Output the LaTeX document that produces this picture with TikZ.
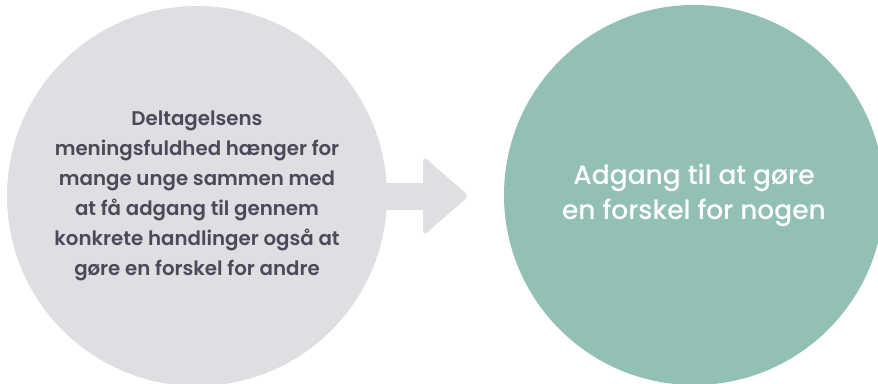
\documentclass[tikz,border=0pt]{standalone}
\usepackage{fontspec}
\setmainfont{Poppins}
\newfontfamily\psemi{Poppins SemiBold}
\newfontfamily\pmed{Poppins Medium}
\definecolor{cgray}{HTML}{DFDFE3}
\definecolor{cteal}{HTML}{92C0B5}
\definecolor{ctext}{HTML}{4B4A5A}
\begin{document}
\begin{tikzpicture}[x=1pt,y=1pt,
  bubble/.style={circle,inner sep=0pt,minimum size=380pt},
  lefttext/.style={text=ctext,font=\psemi\fontsize{19.8}{30}\selectfont,align=center},
  righttext/.style={text=white,font=\pmed\fontsize{26.5}{35}\selectfont,align=center}]
\useasboundingbox (0,0) rectangle (878,383);
\clip (0,0) rectangle (878,383);
\node[bubble,fill=cgray] (L) at (197,187) {};
\node[bubble,fill=cteal] (R) at (694,188) {};
\coordinate (shaftstart) at (370,186.5);
\fill[cgray] (shaftstart) ++(0,-13.5) rectangle (426,200);
\fill[cgray,rounded corners=5pt] (423,227) -- (469,187) -- (423,147) -- cycle;
\node[lefttext] (Lt) at (L.center) {Deltagelsens\\meningsfuldhed hænger for\\mange unge sammen med\\at få adgang til gennem\\konkrete handlinger også at\\gøre en forskel for andre};
\node[righttext] (Rt) at ([yshift=0pt]R.center) {Adgang til at gøre\\en forskel for nogen};
\end{tikzpicture}
\end{document}
